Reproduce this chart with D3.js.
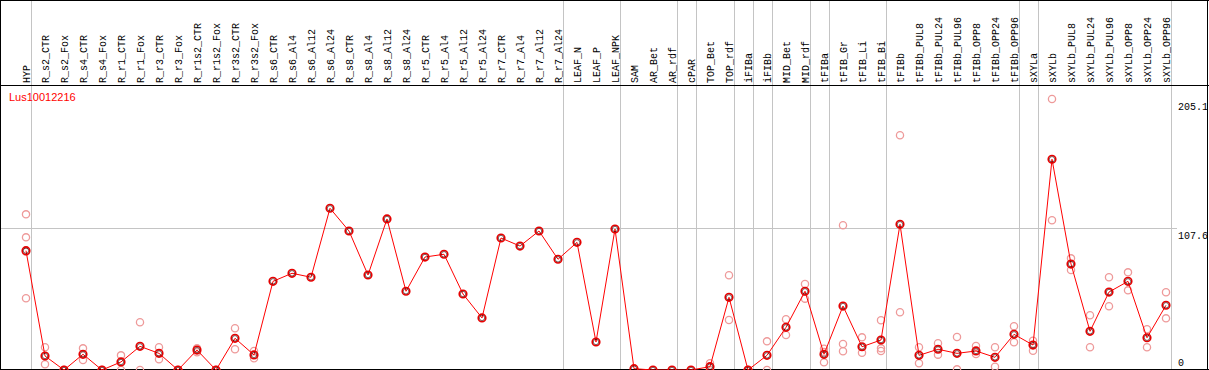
<!DOCTYPE html>
<html>
<head>
<meta charset="utf-8">
<script src="https://cdn.jsdelivr.net/npm/d3@7"></script>
<style>
  body { margin: 0; background: #fff; }
  svg { display: block; }
</style>
</head>
<body>
<svg id="chart" width="1209" height="370"></svg>
<script>
var W = 1209, H = 370;

// sample names across the top
var samples = ["HYP","R_s2_CTR","R_s2_Fox","R_s4_CTR","R_s4_Fox","R_r1_CTR","R_r1_Fox","R_r3_CTR","R_r3_Fox",
  "R_r1s2_CTR","R_r1s2_Fox","R_r3s2_CTR","R_r3s2_Fox","R_s6_CTR","R_s6_Al4","R_s6_Al12","R_s6_Al24",
  "R_s8_CTR","R_s8_Al4","R_s8_Al12","R_s8_Al24","R_r5_CTR","R_r5_Al4","R_r5_Al12","R_r5_Al24",
  "R_r7_CTR","R_r7_Al4","R_r7_Al12","R_r7_Al24","LEAF_N","LEAF_P","LEAF_NPK","SAM","AR_Bet","AR_rdf",
  "cPAR","TOP_Bet","TOP_rdf","iFIBa","iFIBb","MID_Bet","MID_rdf","tFIBa","tFIB_Gr","tFIB_Li","tFIB_Bi",
  "tFIBb","tFIBb_PUL8","tFIBb_PUL24","tFIBb_PUL96","tFIBb_OPP8","tFIBb_OPP24","tFIBb_OPP96","sXYLa",
  "sXYLb","sXYLb_PUL8","sXYLb_PUL24","sXYLb_PUL96","sXYLb_OPP8","sXYLb_OPP24","sXYLb_OPP96"];

// mean expression per sample
var means = [90.3, 10.6, 0, 11.9, 0, 6.1, 17.9, 12.6, 0, 15.1, 0, 24.0, 11.4, 67.1, 73.2, 70.2, 122.4,
  105.2, 71.9, 114.3, 59.6, 85.5, 87.6, 57.5, 39.4, 99.9, 93.8, 105.2, 83.8, 96.6, 21.2, 106.7, 1.0,
  0, 0, 0, 2.5, 55.0, 0, 11.1, 32.3, 59.6, 11.9, 48.4, 17.6, 22.7, 110.3, 11.1, 15.7, 12.6, 14.4, 9.6,
  27.0, 18.9, 159.5, 80.2, 29.3, 59.0, 67.1, 24.4, 49.0];

// individual replicates per sample (empty = none shown)
var replicates = [
  [117.8, 100.4, 89.5, 54.3], [17.2, 4.3], [0, 0], [16.4, 7.6], [0, 0], [11.1, 0], [36.1, 0],
  [17.2, 8.1], [0, 0], [16.4, 13.4], [0, 0], [31.6, 15.7], [14.4, 8.9],
  [], [], [], [], [], [], [], [], [], [], [], [], [], [], [], [], [],
  [], [], [], [], [], [],
  [5.1, 0], [71.7, 37.8], [0, 0], [21.7, 0], [38.4, 26.5], [65.1, 54.0], [16.1, 13.6, 5.8],
  [109.5, 19.7, 14.2], [24.7, 13.1], [37.6, 16.4, 14.4], [177.7, 43.7], [17.2, 5.1], [20.2, 11.6],
  [25.0, 0.5], [18.2, 12.1], [17.2, 2.5], [33.1, 21.0], [22.2, 14.6], [205.1, 113.3], [84.5, 75.7],
  [41.4, 17.2], [70.2, 48.2], [73.9, 60.3], [30.8, 17.2], [58.8, 39.1]
];

// group separators are drawn after these sample indexes (-1 = before first)
var separators = [-1, 0, 28, 31, 34, 35, 37, 38, 39, 41, 42, 45, 52, 53, 60];

var yTicks = [0, 107.6, 205.1];
var geneName = "Lus10012216";

var svg = d3.select("#chart");

var x = d3.scaleBand().domain(samples).range([16.5, 16.5 + 19 * samples.length]);
var bw = x.bandwidth();
function cx(i) { return x(samples[i]) + bw / 2; }

var y = d3.scaleLinear().domain([0, 205.1]).range([370, 99]);

var headerH = 85;

// separators (full height)
svg.append("g").selectAll("line")
  .data(separators)
  .enter().append("line")
  .attr("x1", function(d) { return Math.round(cx(d) + 4.5) + 0.5; })
  .attr("x2", function(d) { return Math.round(cx(d) + 4.5) + 0.5; })
  .attr("y1", 0).attr("y2", H)
  .style("stroke", "#c4c4c4")
  .style("stroke-width", 1);

// horizontal mid gridline
svg.append("line")
  .attr("x1", 1).attr("x2", 1177)
  .attr("y1", Math.round(y(107.6)) + 0.5).attr("y2", Math.round(y(107.6)) + 0.5)
  .style("stroke", "#c4c4c4")
  .style("stroke-width", 1);

// borders
svg.append("line").attr("x1", 0).attr("x2", W).attr("y1", 0.5).attr("y2", 0.5).style("stroke", "#000");
svg.append("line").attr("x1", 0).attr("x2", W).attr("y1", headerH + 0.5).attr("y2", headerH + 0.5).style("stroke", "#000");
svg.append("line").attr("x1", 0).attr("x2", W).attr("y1", 369.5).attr("y2", 369.5).style("stroke", "#000");
svg.append("line").attr("x1", 0.5).attr("x2", 0.5).attr("y1", 0).attr("y2", H).style("stroke", "#000");
svg.append("line").attr("x1", W - 1.5).attr("x2", W - 1.5).attr("y1", 0).attr("y2", H).style("stroke", "#000");

// header labels
svg.append("g").selectAll("text")
  .data(samples)
  .enter().append("text")
  .attr("transform", function(d, i) { return "translate(" + (cx(i) + 3.5) + "," + (headerH - 2) + ") rotate(-90)"; })
  .attr("font-family", "Liberation Mono")
  .attr("font-size", "10px")
  .attr("fill", "#000")
  .text(function(d) { return d; });

// right axis labels
svg.append("g").selectAll("text")
  .data(yTicks)
  .enter().append("text")
  .attr("x", 1178)
  .attr("y", function(d) { return d === 0 ? y(d) - 4 : y(d) + 11; })
  .attr("font-family", "Liberation Mono")
  .attr("font-size", "10px")
  .attr("fill", "#000")
  .text(function(d) { return d; });

// gene name
svg.append("text")
  .attr("x", 9)
  .attr("y", 101)
  .attr("font-family", "Liberation Sans")
  .attr("font-size", "11px")
  .attr("fill", "#ff0000")
  .text(geneName);

var repPoints = [];
replicates.forEach(function(arr, i) {
  arr.forEach(function(v) { repPoints.push({i: i, v: v}); });
});

// replicate points
svg.append("g").selectAll("circle")
  .data(repPoints)
  .enter().append("circle")
  .attr("cx", function(d) { return cx(d.i); })
  .attr("cy", function(d) { return y(d.v); })
  .attr("r", 3.6)
  .style("fill", "none")
  .style("stroke", "#ee9a9a")
  .style("stroke-width", 1.3);

var line = d3.line()
  .x(function(d, i) { return cx(i); })
  .y(function(d) { return y(d); });

svg.append("path")
  .datum(means)
  .attr("d", line)
  .style("fill", "none")
  .style("stroke", "#ff0000")
  .style("stroke-width", 1);

// mean points
var mp = svg.append("g").selectAll("g")
  .data(means)
  .enter().append("g")
  .attr("transform", function(d, i) { return "translate(" + cx(i) + "," + y(d) + ")"; });

mp.append("circle")
  .attr("r", 3.8)
  .style("fill", "none")
  .style("stroke", "#e80000")
  .style("stroke-width", 1.6);

mp.append("circle")
  .attr("r", 2.7)
  .style("fill", "none")
  .style("stroke", "#300000")
  .style("stroke-width", 0.6);
</script>
</body>
</html>
